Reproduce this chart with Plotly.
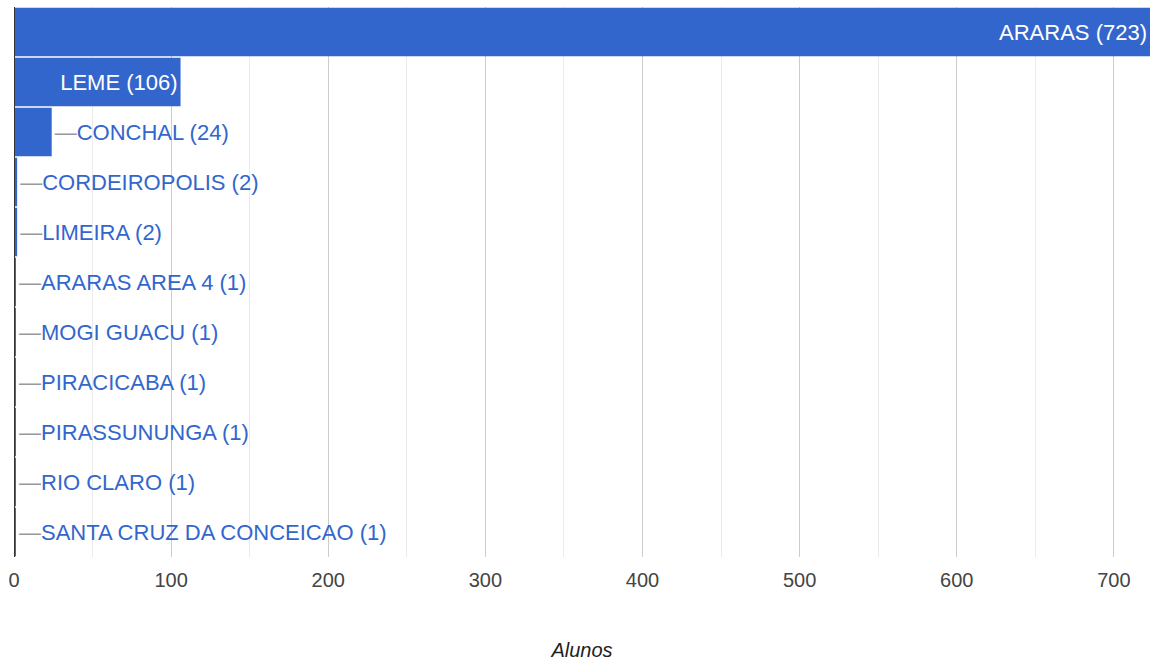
import plotly.graph_objects as go

cidades = ["ARARAS", "LEME", "CONCHAL", "CORDEIROPOLIS", "LIMEIRA", "ARARAS AREA 4",
           "MOGI GUACU", "PIRACICABA", "PIRASSUNUNGA", "RIO CLARO", "SANTA CRUZ DA CONCEICAO"]
alunos = [723, 106, 24, 2, 2, 1, 1, 1, 1, 1, 1]
x_ticks = [0, 100, 200, 300, 400, 500, 600, 700]

BLUE = "#3366cc"
inside_min = 100
positions = ["inside" if v >= inside_min else "outside" for v in alunos]
texts = [f"{c} ({v})" if v >= inside_min else
         f"<span style='color:#999999'>—</span>{c} ({v})" for c, v in zip(cidades, alunos)]

fig = go.Figure(go.Bar(
    x=alunos, y=cidades, orientation="h",
    marker=dict(color=BLUE, line=dict(width=0)),
    text=texts, textposition=positions, insidetextanchor="end",
    insidetextfont=dict(color="white", size=22, family="Liberation Sans, Arial"),
    outsidetextfont=dict(color=BLUE, size=22, family="Liberation Sans, Arial"),
    constraintext="none", cliponaxis=False, hoverinfo="x+y",
))

fig.update_layout(
    width=1150, height=661,
    margin=dict(l=14, r=0, t=7, b=104, autoexpand=False),
    plot_bgcolor="white", paper_bgcolor="white",
    bargap=0.03, showlegend=False,
    font=dict(family="Liberation Sans, Arial", size=20, color="#444444"),
    xaxis=dict(
        range=[0, 723], tickvals=x_ticks, showgrid=True, gridcolor="#cccccc", gridwidth=1,
        minor=dict(dtick=50, tick0=0, showgrid=True, gridcolor="#ebebeb"),
        zeroline=False, showline=False, ticks="outside", ticklen=5, tickcolor="rgba(0,0,0,0)",
        automargin=False,
        tickfont=dict(size=20, color="#444444"),
        title=dict(text="<i>Alunos</i>", font=dict(size=20, color="#222222"), standoff=59),
    ),
    yaxis=dict(autorange="reversed", showticklabels=False, showgrid=False, automargin=False,
               zeroline=False, ticks="", showline=False),
    shapes=[dict(type="line", xref="x", yref="paper", x0=0, x1=0, y0=0, y1=1,
                 line=dict(color="#333333", width=2))],
)

fig.write_html(
    "out.html",
    config={"displayModeBar": False},
    post_script="document.body.style.margin='0';document.body.style.overflow='hidden';",
)
